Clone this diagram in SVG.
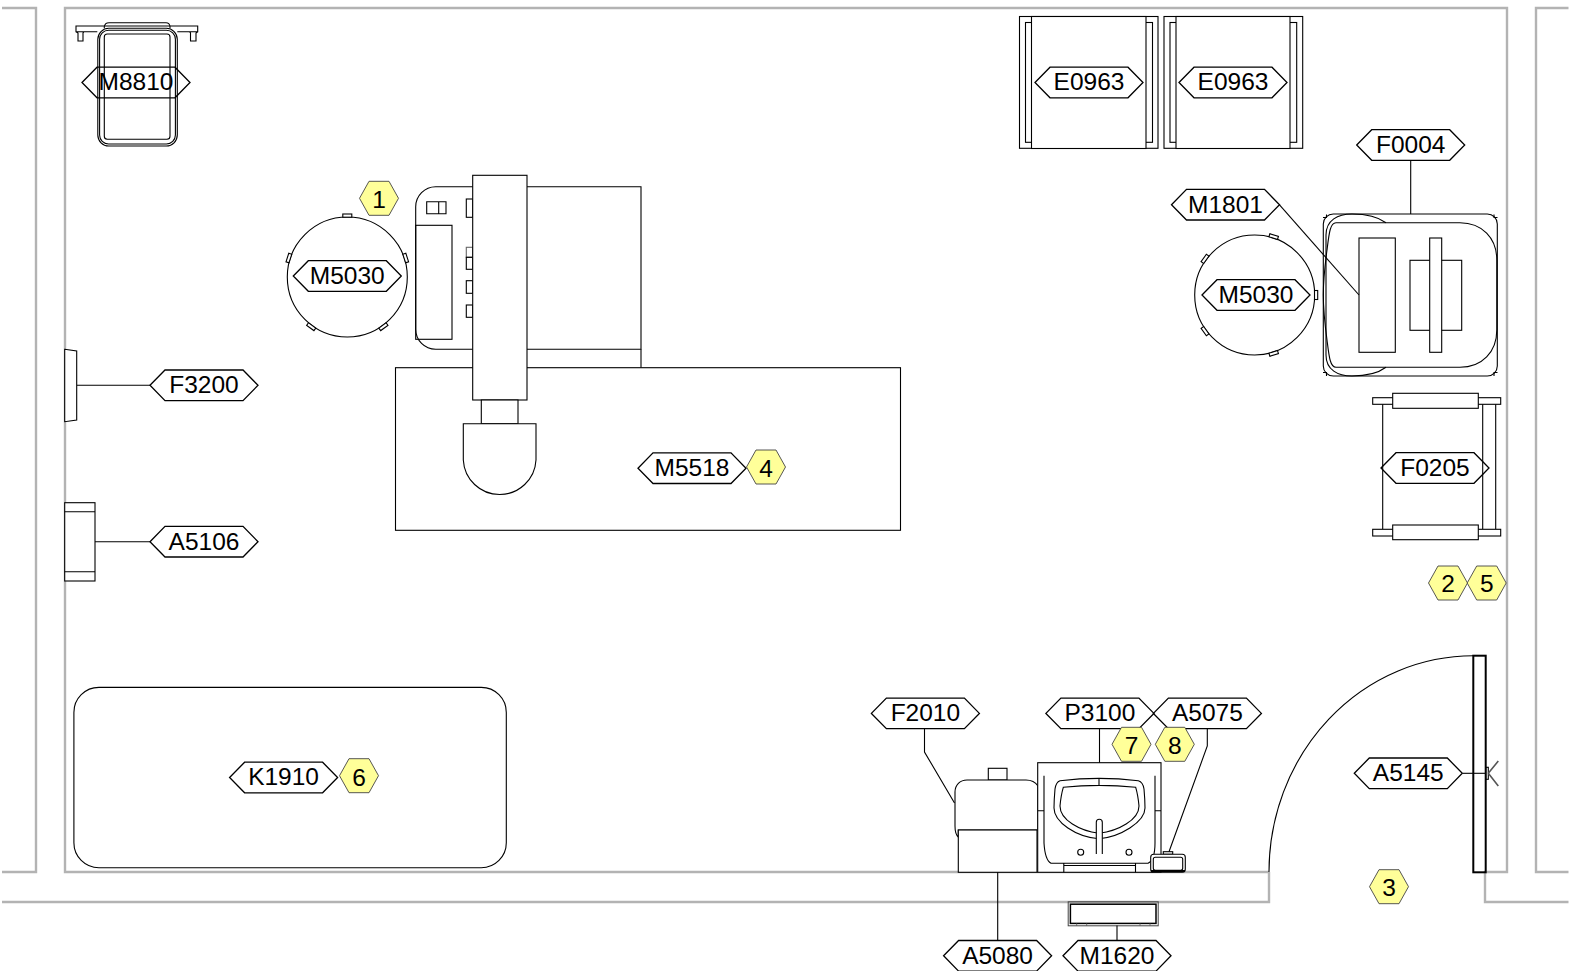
<svg xmlns="http://www.w3.org/2000/svg" width="1572" height="971" viewBox="0 0 1572 971">
<style>
.wall{fill:none;stroke:#b3b3b3;stroke-width:2.4}
.s{fill:none;stroke:#000;stroke-width:1.1}
.w{fill:#fff;stroke:#000;stroke-width:1.1}
.tag{fill:none;stroke:#000;stroke-width:1.3}
.hex{fill:#ffff99;stroke:#444;stroke-width:.9}
text{font-family:"Liberation Sans",Arial,sans-serif;font-size:24.5px;text-anchor:middle;fill:#000}
</style>
<defs>
<polygon id="tagshape" class="tag" points="-54,0 -39,-15.3 39,-15.3 54,0 39,15.3 -39,15.3"/>
<polygon id="hexshape" class="hex" points="-19.5,0 -10,-17 10,-17 19.5,0 10,17 -10,17"/>
<rect id="tab" class="w" x="-4.5" y="-63" width="9" height="3.2"/>
</defs>
<rect width="1572" height="971" fill="#fff"/>
<g id="walls">
<path class="wall" d="M2,8H36V872H2"/>
<path class="wall" d="M1269,872H65V8H1507V872H1485V902H1568.5"/>
<path class="wall" d="M2,902H1269V872"/>
<path class="wall" d="M1568.5,8H1536V872H1568.5"/>
</g>
<g id="M8810">
<path class="s" d="M104.3,28.3V26.5Q105,22.7 109,22.7H166Q169.5,22.7 170,26.5V28.3"/>
<path class="s" d="M97.3,31.7H76V26H197.7V31.7H177.3M76,31.7 78,33V41H83V33L84,31.7M197.7,31.7 196,33V41H190.5V33L189.5,31.7"/>
<rect class="w" x="97.8" y="28.3" width="79.5" height="117.7" rx="11"/>
<rect class="s" x="99.6" y="30.3" width="75.8" height="113.7" rx="9"/>
<rect class="s" x="104.3" y="34" width="65.7" height="105.3" rx="3"/>
</g>
<g id="E0963-1">
<rect class="s" x="1019.5" y="16.5" width="138.5" height="131.8"/>
<rect class="s" x="1025.5" y="22.5" width="127" height="119.8"/>
<rect class="w" x="1031.5" y="16.5" width="114.5" height="132"/>
</g>
<g id="E0963-2">
<rect class="s" x="1164" y="16.5" width="138.7" height="131.8"/>
<rect class="s" x="1170" y="22.5" width="126.7" height="119.8"/>
<rect class="w" x="1176" y="16.5" width="114" height="132"/>
</g>
<g id="M5030-1">
<circle class="w" cx="347.3" cy="277" r="60"/>
<use href="#tab" transform="translate(347.3 277)"/>
<use href="#tab" transform="translate(347.3 277) rotate(72)"/>
<use href="#tab" transform="translate(347.3 277) rotate(144)"/>
<use href="#tab" transform="translate(347.3 277) rotate(216)"/>
<use href="#tab" transform="translate(347.3 277) rotate(288)"/>
</g>
<g id="M5030-2">
<circle class="w" cx="1254.7" cy="295" r="60"/>
<use href="#tab" transform="translate(1254.7 295) rotate(18)"/>
<use href="#tab" transform="translate(1254.7 295) rotate(90)"/>
<use href="#tab" transform="translate(1254.7 295) rotate(162)"/>
<use href="#tab" transform="translate(1254.7 295) rotate(234)"/>
<use href="#tab" transform="translate(1254.7 295) rotate(306)"/>
</g>
<g id="M5518">
<path class="w" d="M435.7,186.7H641V349.3H435.7A20,20 0 0 1 415.7,329.3V206.7A20,20 0 0 1 435.7,186.7Z"/>
<rect class="s" x="415.7" y="225.3" width="36.3" height="114"/>
<path class="s" d="M426.7,201.7H446V213.7H426.7ZM438.7,201.7V213.7"/>
<rect class="s" x="466.3" y="199" width="6.4" height="18.3"/>
<rect class="s" x="466.3" y="247.3" width="6.4" height="10" stroke-opacity=".6"/>
<rect class="s" x="466.3" y="257.3" width="6.4" height="12"/>
<rect class="s" x="466.3" y="280.7" width="6.4" height="12.6"/>
<rect class="s" x="466.3" y="305" width="6.4" height="12.3"/>
<path class="s" d="M641,349.3V367.7"/>
<rect class="w" x="395.5" y="367.7" width="505" height="162.6"/>
<rect class="w" x="472.7" y="175.3" width="54.3" height="224.7"/>
<rect class="w" x="481.3" y="400" width="36.7" height="23.7"/>
<path class="w" d="M463.3,423.7H536V460A36.4,36.4 0 0 1 463.3,460Z"/>
</g>
<g id="F0004">
<rect class="w" x="1323.3" y="214" width="174" height="162" rx="10"/>
<path class="s" d="M1323,217.5h3.5v-3M1497.5,217.5h-3.5v-3M1323,372.5h3.5v3.5M1497.5,372.5h-3.5v3.5"/>
<path class="s" d="M1386,222.7C1377,216 1365,214 1352,214C1338,214 1326,220 1326,235V355C1326,370 1338,376 1352,376C1365,376 1377,374 1386,367.3"/>
<path class="s" d="M1336,222.7H1460C1482,222.7 1496.8,238 1496.8,260V330C1496.8,352 1482,367.3 1460,367.3H1336C1330,367.3 1329,356 1327,340C1325,325 1323.3,310 1323.3,295C1323.3,280 1325,265 1327,250C1329,234 1330,222.7 1336,222.7Z"/>
<rect class="s" x="1359" y="238" width="36.3" height="114.3"/>
<rect class="s" x="1410" y="260.3" width="51.7" height="70"/>
<rect class="w" x="1429.7" y="238" width="12" height="114.3"/>
</g>
<g id="F3200"><path class="w" d="M64.7,349.3 76.7,351V420L64.7,421.7Z"/></g>
<g id="A5106">
<rect class="w" x="64.7" y="502.7" width="30.3" height="78.3"/>
<path class="s" d="M64.7,511.7H95M64.7,571.7H95"/>
</g>
<g id="F0205">
<path class="s" d="M1382.7,404V529.3M1482.7,404V529.3M1495.7,404V529.3"/>
<rect class="w" x="1372.7" y="397.7" width="128" height="6.6"/>
<rect class="w" x="1392.7" y="393.3" width="85.6" height="15"/>
<rect class="w" x="1372.7" y="529.3" width="128" height="6.7"/>
<rect class="w" x="1392.7" y="525" width="85.6" height="14.7"/>
</g>
<g id="K1910"><rect class="s" x="73.9" y="687.4" width="432.4" height="180.4" rx="25"/></g>
<g id="F2010">
<rect class="s" x="988.3" y="768.3" width="18.7" height="11.7"/>
<path class="w" d="M967,780H1026C1032,780 1036,783 1038,786V830H958.3V837Q955,834 955,826V792C955,785 960,780 967,780Z"/>
<rect class="w" x="958.3" y="830" width="78.7" height="42.3"/>
</g>
<g id="P3100">
<rect class="w" x="1037.7" y="762.7" width="123.3" height="109.6"/>
<path class="s" d="M1044,775.7V843Q1045,860 1051,863.3H1148Q1155,860 1155,843V775.7M1038,810.7H1044M1155,810.7H1161M1063.8,863.3V872.3M1135.5,863.3V872.3M1063.8,865.5H1135.5"/>
<path class="s" d="M1060,780.7Q1099,776 1138.3,780.7Q1143,782 1144,789Q1145,800 1145,808C1145,822 1120,837 1099,838.7C1076,837 1054,822 1054,808Q1054,800 1055,789Q1056,782 1060,780.7Z"/>
<path class="s" d="M1063.3,787.3Q1099,783.5 1135.7,787.3Q1138,795 1139,806C1139,820 1118,831 1099,833.3C1080,831 1060,820 1060,806Q1061,795 1063.3,787.3ZM1099,778.5V785"/>
<path class="w" d="M1096.3,854V822.3A3,3 0 0 1 1102.3,822.3V854" />
<circle class="s" cx="1080.7" cy="852.3" r="3"/>
<circle class="s" cx="1129" cy="852.3" r="3"/>
</g>
<g id="A5075">
<rect class="s" x="1163.3" y="851.7" width="9.4" height="2.6"/>
<rect class="w" x="1150.7" y="854.3" width="34.6" height="18" rx="3"/>
<rect class="s" x="1153.3" y="857.3" width="29.4" height="13" rx="2"/>
<path d="M1151,871H1185" stroke="#000" stroke-width="2"/>
</g>
<g id="A5145">
<rect x="1473.3" y="655.7" width="12.4" height="216.6" fill="none" stroke="#000" stroke-width="2"/>
<path class="s" d="M1473.3,655.7A204.3,216.3 0 0 0 1269,872"/>
<rect class="s" x="1485.7" y="767.3" width="2.6" height="12"/>
<path d="M1488.3,773.3 1498.3,761M1488.3,773.3 1498.3,786" fill="none" stroke="#555" stroke-width="1.6"/>
</g>
<g id="M1620">
<rect x="1068.2" y="901.8" width="90" height="24" fill="none" stroke="#444" stroke-width="1"/>
<rect x="1070.4" y="904.2" width="85.6" height="19.2" fill="none" stroke="#000" stroke-width="1.5"/>
<path d="M1076.7,923.4V925.8M1086.7,923.4V925.8M1140,923.4V925.8M1150,923.4V925.8" stroke="#555" stroke-width=".8"/>
</g>
<g id="connectors">
<path class="s" d="M77,385.3H150"/>
<path class="s" d="M95,541.7H150"/>
<path class="s" d="M1410.7,160.3V214"/>
<path class="s" d="M1279.3,204.7 1359,295"/>
<path class="s" d="M924.5,729V752L954.5,803"/>
<path class="s" d="M1099.5,729V762.7"/>
<path class="s" d="M1207.3,729V746L1169,851.7"/>
<path class="s" d="M997.7,872.3V941"/>
<path class="s" d="M1117,925.5V941"/>
<path class="s" d="M1462.7,773.3H1485.7"/>
</g>
<g id="tag-M8810"><use href="#tagshape" x="136" y="82.5"/><text x="136" y="90.3">M8810</text></g>
<g id="tag-E0963-1"><use href="#tagshape" x="1089" y="82.5"/><text x="1089" y="90.3">E0963</text></g>
<g id="tag-E0963-2"><use href="#tagshape" x="1233" y="82.5"/><text x="1233" y="90.3">E0963</text></g>
<g id="tag-F0004"><use href="#tagshape" x="1410.7" y="145"/><text x="1410.7" y="152.8">F0004</text></g>
<g id="tag-M1801"><use href="#tagshape" x="1225.5" y="204.7"/><text x="1225.5" y="212.5">M1801</text></g>
<g id="tag-M5030-1"><use href="#tagshape" x="347.3" y="276"/><text x="347.3" y="283.8">M5030</text></g>
<g id="tag-M5030-2"><use href="#tagshape" x="1256" y="295"/><text x="1256" y="302.8">M5030</text></g>
<g id="tag-F3200"><use href="#tagshape" x="204" y="385.3"/><text x="204" y="393.1">F3200</text></g>
<g id="tag-A5106"><use href="#tagshape" x="204" y="541.7"/><text x="204" y="549.5">A5106</text></g>
<g id="tag-M5518"><use href="#tagshape" x="692" y="468.2"/><text x="692" y="476">M5518</text></g>
<g id="tag-F0205"><use href="#tagshape" x="1435" y="468"/><text x="1435" y="475.8">F0205</text></g>
<g id="tag-A5145"><use href="#tagshape" x="1408.3" y="773.3"/><text x="1408.3" y="781.1">A5145</text></g>
<g id="tag-F2010"><use href="#tagshape" x="925.4" y="713.4"/><text x="925.4" y="721.2">F2010</text></g>
<g id="tag-P3100"><use href="#tagshape" x="1099.9" y="713.4"/><text x="1099.9" y="721.2">P3100</text></g>
<g id="tag-A5075"><use href="#tagshape" x="1207.4" y="713.4"/><text x="1207.4" y="721.2">A5075</text></g>
<g id="tag-K1910"><use href="#tagshape" x="283.6" y="777.5"/><text x="283.6" y="785.3">K1910</text></g>
<g id="tag-A5080"><use href="#tagshape" x="997.6" y="955.8"/><text x="997.6" y="963.6">A5080</text></g>
<g id="tag-M1620"><use href="#tagshape" x="1117" y="955.8"/><text x="1117" y="963.6">M1620</text></g>
<g id="badge-1"><use href="#hexshape" x="379" y="198.3"/><text x="379" y="208">1</text></g>
<g id="badge-2"><use href="#hexshape" x="1448" y="583"/><text x="1448" y="592.3">2</text></g>
<g id="badge-5"><use href="#hexshape" x="1486.7" y="583"/><text x="1486.7" y="592.3">5</text></g>
<g id="badge-3"><use href="#hexshape" x="1389" y="886.7"/><text x="1389" y="896">3</text></g>
<g id="badge-4"><use href="#hexshape" x="766" y="467"/><text x="766" y="476.5">4</text></g>
<g id="badge-6"><use href="#hexshape" x="359" y="775.7"/><text x="359" y="785.6">6</text></g>
<g id="badge-7"><use href="#hexshape" x="1131.5" y="744.3"/><text x="1131.5" y="754">7</text></g>
<g id="badge-8"><use href="#hexshape" x="1174.8" y="744.3"/><text x="1174.8" y="754">8</text></g>
</svg>
